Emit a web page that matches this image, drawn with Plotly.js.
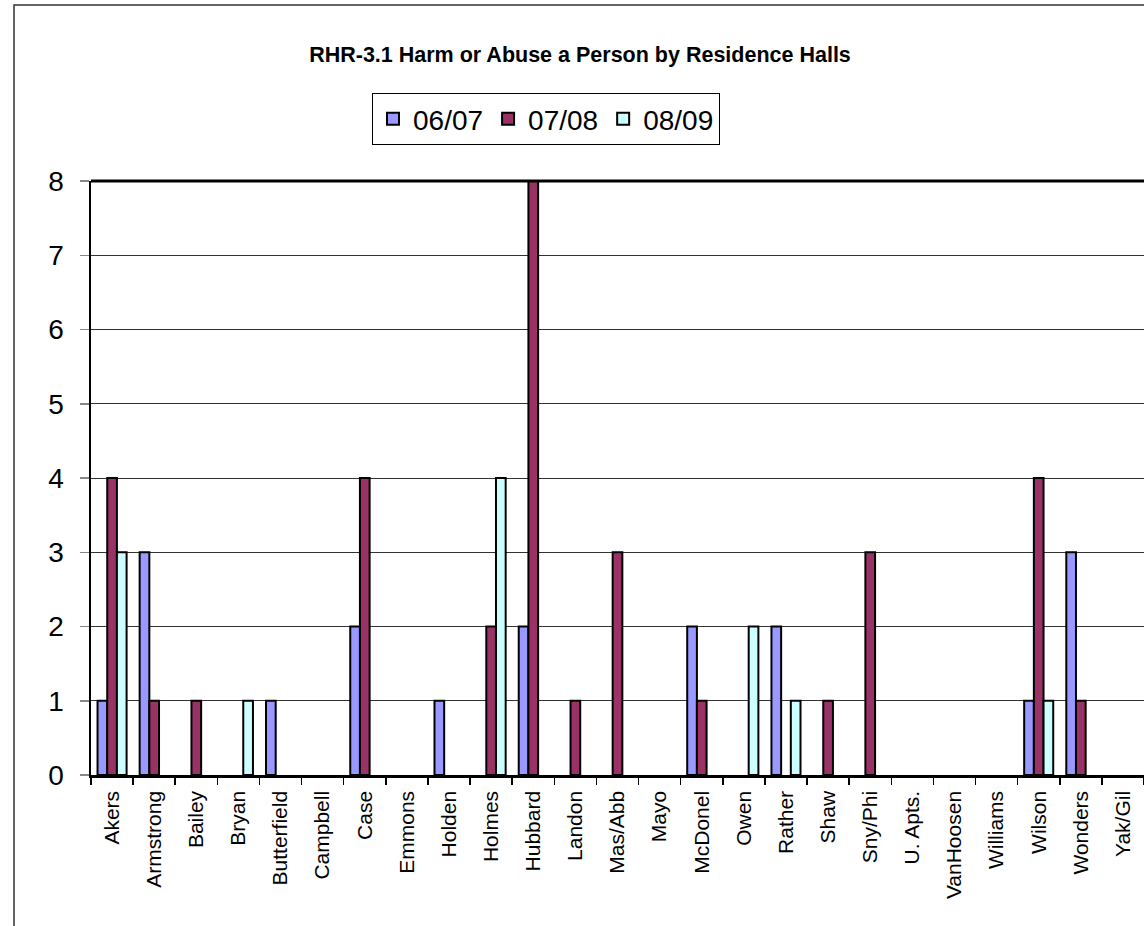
<!DOCTYPE html>
<html>
<head>
<meta charset="utf-8">
<script src="https://cdn.plot.ly/plotly-3.0.1.min.js"></script>
<style>html,body{margin:0;padding:0;background:#fff;}#chart{width:1144px;height:926px;}</style>
</head>
<body>
<div id="chart"></div>
<script>
const halls = ["Akers","Armstrong","Bailey","Bryan","Butterfield","Campbell","Case","Emmons","Holden","Holmes","Hubbard","Landon","Mas/Abb","Mayo","McDonel","Owen","Rather","Shaw","Sny/Phi","U. Apts.","VanHoosen","Williams","Wilson","Wonders","Yak/Gil"];
const y0607 = [1,3,0,0,1,0,2,0,1,0,2,0,0,0,2,0,2,0,0,0,0,0,1,3,0];
const y0708 = [4,1,1,0,0,0,4,0,0,2,8,1,3,0,1,0,0,1,3,0,0,0,4,1,0];
const y0809 = [3,0,0,1,0,0,0,0,0,4,0,0,0,0,0,2,1,0,0,0,0,0,1,0,0];
const seriesNames = ["06/07","07/08","08/09"];
const seriesColors = ["#9999FF","#993366","#CCFFFF"];
const seriesValues = [y0607,y0708,y0809];

const traces = seriesValues.map((v,i)=>({
  type:'bar', x:halls, y:v.map(d=>d===0?null:d), name:seriesNames[i],
  marker:{color:seriesColors[i], line:{color:'#000', width:2}},
  hoverinfo:'x+y+name'
}));

const L=91, R=0, T=181, B=151, W=1144, H=926;
const pw=W-L-R, ph=H-T-B;
const px=x=>(x-L)/pw, py=y=>(H-B-y)/ph;

const layout = {
  width:W, height:H,
  margin:{l:L, r:R, t:T, b:B, pad:0},
  paper_bgcolor:'#fff', plot_bgcolor:'#fff',
  font:{family:'Arial, Liberation Sans, sans-serif', color:'#000'},
  barmode:'group', bargap:0.31, bargroupgap:0,
  title:{text:'<b>RHR-3.1 Harm or Abuse a Person by Residence Halls</b>', font:{size:21.5, color:'#000'},
    xref:'paper', x:px(580), xanchor:'center', yref:'container', y:1-54/H, yanchor:'middle'},
  showlegend:true,
  legend:{orientation:'h', x:px(372), xanchor:'left', y:py(93), yanchor:'top',
    bordercolor:'#000', borderwidth:1, bgcolor:'#fff', font:{size:28, color:'#000'},
    traceorder:'normal', itemwidth:30, tracegroupgap:0},
  xaxis:{type:'category', range:[-0.5,24.5], tickangle:-90, tickfont:{size:21, color:'#000'},
    ticks:'outside', tickson:'boundaries', ticklen:7, tickcolor:'#000', tickwidth:1.5,
    showline:true, linecolor:'#000', linewidth:2.5, showgrid:false, zeroline:false, fixedrange:true,
    ticklabelstandoff:5},
  yaxis:{range:[0,8], dtick:1, tickfont:{size:28, color:'#000'}, ticks:'outside', ticklen:9,
    tickcolor:'#888', tickwidth:1.5, showline:true, linecolor:'#000', linewidth:2.5,
    showgrid:true, gridcolor:'#333', gridwidth:1, zeroline:false, fixedrange:true, ticklabelstandoff:10},
  shapes:[
    {type:'line', xref:'paper', yref:'paper', x0:0, x1:1.01, y0:1, y1:1, line:{color:'#000', width:3}},
    {type:'rect', xref:'paper', yref:'paper', x0:px(14), x1:1.05, y0:py(5), y1:py(940), line:{color:'#333', width:1.5}, layer:'below'}
  ]
};
Plotly.newPlot('chart', traces, layout, {displayModeBar:false, staticPlot:true});
</script>
</body>
</html>
